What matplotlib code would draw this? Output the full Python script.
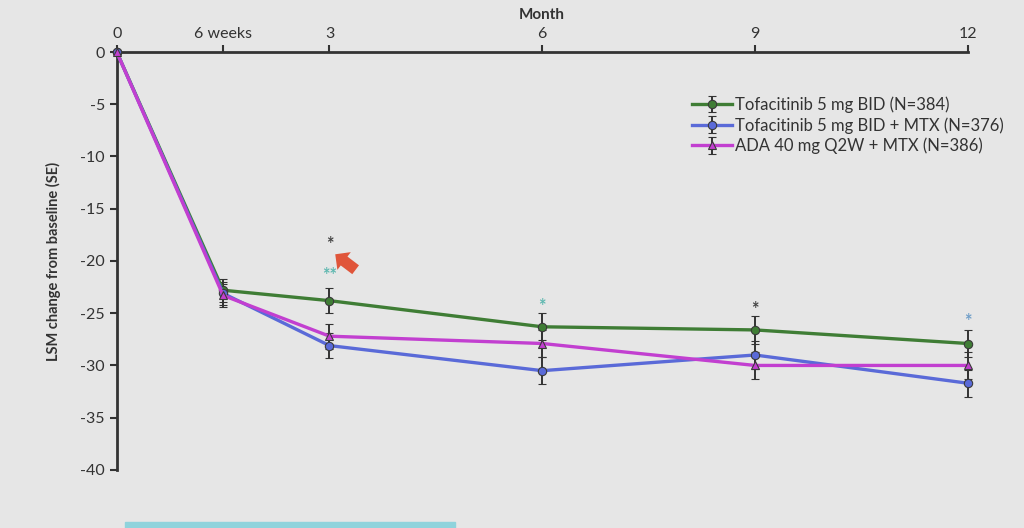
import numpy as np
import matplotlib.pyplot as plt
from matplotlib.patches import Rectangle

plt.rcParams["font.family"] = ["Lato", "DejaVu Sans"]
plt.rcParams["axes.unicode_minus"] = False

# time points in months (6 weeks = 1.5)
months = [0, 1.5, 3, 6, 9, 12]
tick_labels = ["0", "6 weeks", "3", "6", "9", "12"]

tofa = [0, -22.8, -23.8, -26.3, -26.6, -27.9]
tofa_se = [0, 1.1, 1.2, 1.3, 1.3, 1.3]
tofa_mtx = [0, -23.1, -28.1, -30.5, -29.0, -31.7]
tofa_mtx_se = [0, 1.1, 1.2, 1.3, 1.3, 1.3]
ada_mtx = [0, -23.3, -27.2, -27.9, -30.0, -30.0]
ada_mtx_se = [0, 1.1, 1.2, 1.3, 1.3, 1.3]

labels = [
    "Tofacitinib 5 mg BID (N=384)",
    "Tofacitinib 5 mg BID + MTX (N=376)",
    "ADA 40 mg Q2W + MTX (N=386)",
]
colors = ["#3f7d35", "#5a6ad8", "#c23fd0"]
markers = ["o", "o", "^"]

# significance marks: (x, y, text, colour)
stars = [
    (3, -18.4, "*", "#444444"),
    (3, -21.4, "**", "#5fb8b0"),
    (6, -24.4, "*", "#5fb8b0"),
    (9, -24.6, "*", "#444444"),
    (12, -25.8, "*", "#6f9ec8"),
]

fig = plt.figure(figsize=(10.24, 5.28), dpi=100)
fig.patch.set_facecolor("#e6e6e6")
ax = fig.add_axes([0.114, 0.110, 0.831, 0.7915])
ax.set_facecolor("none")

series = [(tofa, tofa_se), (tofa_mtx, tofa_mtx_se), (ada_mtx, ada_mtx_se)]
for (vals, se), lab, c, m in zip(series, labels, colors, markers):
    ax.errorbar(months, vals, yerr=se, color=c, lw=2.4, marker=m, ms=6,
                mec="#3a3a3a", mew=0.8, ecolor="#333333", elinewidth=1.4,
                capsize=3, capthick=1.4, label=lab, clip_on=False, zorder=3)

for x, y, s, c in stars:
    ax.text(x, y, s, ha="center", va="center", fontsize=13, color=c,
            fontweight="bold")

# red pointer arrow on the slide
ax.annotate("", xy=(3.05, -19.2), xytext=(3.4, -21.0),
            arrowprops=dict(arrowstyle="simple,head_width=1.6,head_length=0.8,tail_width=0.8",
                            color="#e0553a", lw=0))

ax.set_xlim(0, 12)
ax.set_ylim(-40, 0)
ax.xaxis.tick_top()
ax.set_xticks(months)
ax.set_xticklabels(tick_labels)
ax.set_yticks(np.arange(0, -41, -5))
ax.tick_params(axis="both", colors="#333333", labelsize=11.5, width=1.5,
               length=5)
ax.tick_params(axis="x", pad=3)
for sp in ["bottom", "right"]:
    ax.spines[sp].set_visible(False)
for sp in ["top", "left"]:
    ax.spines[sp].set_linewidth(2)
    ax.spines[sp].set_color("#333333")

ax.text(6, 1.088, "Month", transform=ax.get_xaxis_transform(), ha="center",
        va="center", fontsize=11, fontweight="bold", color="#333333")
ax.set_ylabel("LSM change from baseline (SE)", fontsize=10.5,
              fontweight="bold", color="#333333", labelpad=14)

leg = ax.legend(loc="upper right", bbox_to_anchor=(1.06, 0.93), frameon=False,
                fontsize=12, handlelength=2.4, handletextpad=0.2,
                labelspacing=0.25)
for t in leg.get_texts():
    t.set_color("#333333")

# teal strip at the bottom of the slide
fig.patches.append(Rectangle((0.122, 0.0), 0.322, 0.012, transform=fig.transFigure,
                             color="#8fd3dc", zorder=0))

fig.savefig("out.png", dpi=100, facecolor=fig.get_facecolor())
